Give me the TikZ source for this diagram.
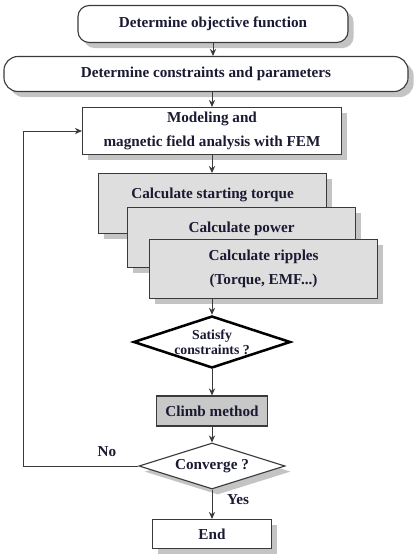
\documentclass[tikz,border=0pt]{standalone}
\usepackage{fontspec}
\setmainfont{Liberation Serif}
\usetikzlibrary{positioning,shapes.geometric,arrows.meta,calc,shadows}
\definecolor{ink}{HTML}{1A1A33}
\definecolor{edge}{HTML}{3A3A3A}
\definecolor{calcfill}{HTML}{DEDEDE}
\definecolor{climbfill}{HTML}{C8C8C8}
\definecolor{shade}{HTML}{C4C4C4}
\tikzset{
    block/.style={rectangle, draw=edge, fill=white, line width=0.8pt, inner sep=0pt, align=center, font=\fontsize{10.8}{17}\selectfont\bfseries, text=ink},
    shadowed/.style={drop shadow={shadow xshift=0.14cm, shadow yshift=-0.14cm, fill=shade, opacity=1}},
    roundblock/.style={block, shadowed, rounded corners=8pt},
    calcblock/.style={block, shadowed, fill=calcfill, minimum width=5.7cm, anchor=north west},
    decision/.style={diamond, aspect=3, draw=black, fill=white, inner sep=-4pt, align=center, font=\fontsize{9.8}{11}\selectfont\bfseries, text=ink},
    answer/.style={font=\fontsize{10.8}{13}\selectfont\bfseries, text=ink},
    arrow/.style={-{Stealth[length=5pt,width=4.5pt]}, line width=0.7pt, color=edge}
}
\begin{document}
\begin{tikzpicture}[x=0.025cm, y=-0.025cm]
\useasboundingbox (0,0) rectangle (415,554);

\node[roundblock, minimum width=6.75cm, minimum height=0.925cm] (objective) at (213,24) {Determine objective function};
\node[roundblock, rounded corners=10pt, minimum width=10.1cm, minimum height=0.875cm] (constraints) at (206,74) {Determine constraints and parameters};
\node[block, shadowed, minimum width=6.475cm, minimum height=1.175cm] (model) at (212,131) {Modeling and\\magnetic field analysis with FEM};

% stacked calculation boxes
\node[calcblock, text height=0.625cm, text depth=0.875cm] (torque) at (98,173) {Calculate starting torque};
\node[calcblock, text height=0.625cm, text depth=0.875cm] (power) at ($(torque.north west)+(29,34)$) {Calculate power};
\node[calcblock, minimum height=1.475cm] (ripple) at ($(power.north west)+(22,32)$) {Calculate ripples\\(Torque, EMF...)};

\node[decision, line width=1.8pt, minimum width=3.925cm, minimum height=1.3cm] (satisfy) at (212,342) {Satisfy\\constraints ?};
\node[block, fill=climbfill, minimum width=2.775cm, minimum height=0.75cm] (climb) at (212,411) {Climb method};
\node[decision, shadowed, draw=edge, line width=0.8pt, inner sep=-2pt, font=\fontsize{10.8}{13}\selectfont\bfseries, minimum width=3.65cm, minimum height=1.15cm] (converge) at (212,466) {Converge ?};
\node[block, shadowed, minimum width=2.975cm, minimum height=0.725cm] (finish) at (212,534) {End};

\coordinate (loop) at (23,466);
\node[answer] (no) at (107,452) {No};
\node[answer] (yes) at (238,500) {Yes};

\draw[arrow] (objective.south) -- (objective.south |- constraints.north);
\draw[arrow] (model.north |- constraints.south) -- (model.north);
\draw[arrow] (model.south) -- (torque.north -| model.south);
\draw[arrow] (satisfy.north |- ripple.south) -- (satisfy.north);
\draw[arrow] (satisfy.south) -- (climb.north);
\draw[arrow] (climb.south) -- (converge.north);
\draw[arrow] (converge.south) -- (finish.north);
\draw[arrow] (converge.west) -- (loop) |- (model.west);

\end{tikzpicture}
\end{document}
